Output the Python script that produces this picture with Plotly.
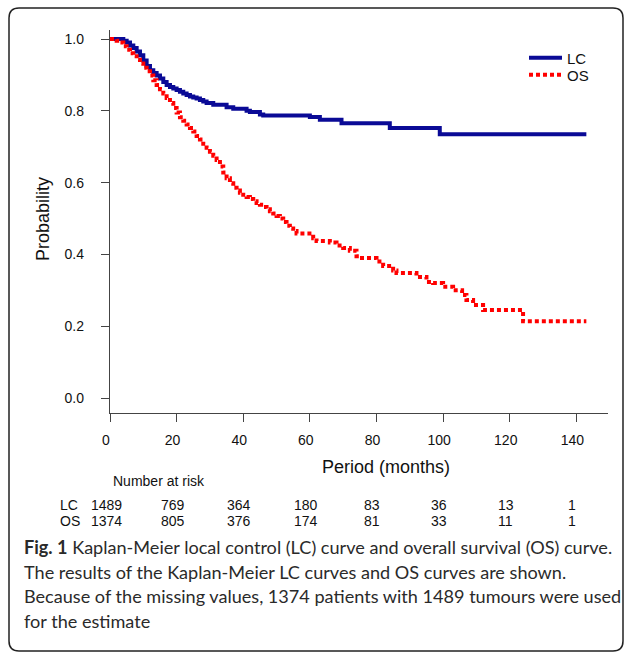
import plotly.graph_objects as go

# ---------------- data ----------------
lc_t = [0, 4, 5, 6, 7, 8, 9, 10, 11, 12, 13, 14, 15, 16, 17, 18, 19, 20, 21, 22, 23, 24, 25, 26, 27, 28, 29, 31,
        35, 37, 41, 42, 45, 46, 60, 63, 69.5, 84, 99, 143]
lc_s = [1.0, 0.995, 0.99, 0.982, 0.975, 0.965, 0.955, 0.94, 0.925, 0.913, 0.905, 0.898, 0.89, 0.88, 0.872, 0.866,
        0.862, 0.858, 0.853, 0.848, 0.844, 0.84, 0.837, 0.834, 0.83, 0.826, 0.822, 0.817,
        0.81, 0.806, 0.8, 0.797, 0.79, 0.787, 0.783, 0.775, 0.765, 0.752, 0.735, 0.735]

os_t = [0, 2, 3, 4, 5, 6, 7, 8, 9, 10, 11, 12, 13, 14, 15, 16, 17, 18, 19, 20, 21, 22, 23, 24, 25, 26, 27, 28, 29,
        30, 31, 32, 33, 34, 35, 36, 37, 38, 39, 40, 41, 42, 43, 44, 45, 46, 47, 48, 49, 50, 51, 52, 53, 54, 55, 56,
        61, 62, 66, 68, 70, 72, 74, 75, 80, 82, 85, 86, 92, 95, 97, 100, 103, 105.7, 107, 109, 112, 124, 143]
os_s = [1.0, 0.995, 0.99, 0.98, 0.97, 0.96, 0.952, 0.942, 0.932, 0.92, 0.91, 0.898, 0.885, 0.872, 0.86, 0.848,
        0.836, 0.822, 0.808, 0.795, 0.782, 0.772, 0.762, 0.752, 0.742, 0.73, 0.72, 0.708, 0.697,
        0.686, 0.675, 0.663, 0.645, 0.628, 0.612, 0.598, 0.586, 0.578, 0.572, 0.566, 0.56, 0.554, 0.548, 0.543,
        0.538, 0.532, 0.526, 0.52, 0.514, 0.507, 0.5, 0.49, 0.48, 0.472, 0.465, 0.458,
        0.445, 0.437, 0.433, 0.425, 0.418, 0.41, 0.395, 0.39, 0.38, 0.368, 0.355, 0.348, 0.337, 0.323, 0.32,
        0.31, 0.30, 0.287, 0.273, 0.259, 0.245, 0.214, 0.214]

risk_times = [0, 20, 40, 60, 80, 100, 120, 140]
risk_lc = [1489, 769, 364, 180, 83, 36, 13, 1]
risk_os = [1374, 805, 376, 174, 81, 33, 11, 1]

x_ticks = [0, 20, 40, 60, 80, 100, 120, 140]
y_ticks = [0.0, 0.2, 0.4, 0.6, 0.8, 1.0]
y_tick_labels = ["0.0", "0.2", "0.4", "0.6", "0.8", "1.0"]

caption_lines = [
    "<b>Fig. 1</b> Kaplan-Meier local control (LC) curve and overall survival (OS) curve.",
    "The results of the Kaplan-Meier LC curves and OS curves are shown.",
    "Because of the missing values, 1374 patients with 1489 tumours were used",
    "for the estimate",
]

# ---------------- layout geometry ----------------
W, H = 627, 653
L, R, T, B = 110, 608, 30, 413
PW, PH = R - L, B - T


def px(xp):
    return (xp - L) / PW


def py(yp):
    return (B - yp) / PH


AX_FONT = "Liberation Sans, Arial, sans-serif"
CAP_FONT = "Lato, Open Sans, sans-serif"
TXT = "#111"

fig = go.Figure()
fig.add_trace(go.Scatter(x=lc_t, y=lc_s, mode="lines", name="LC", line_shape="hv", legend="legend",
                         line=dict(color="#0a0a96", width=4)))
fig.add_trace(go.Scatter(x=os_t, y=os_s, mode="lines", name="OS", line_shape="hv", legend="legend2",
                         line=dict(color="#ff0000", width=4, dash="4px,3px")))


def note(text, x, y, size=14, xref="paper", xanchor="center", family=AX_FONT, color=TXT, **kw):
    return dict(text=text, xref=xref, yref="paper", x=x, y=y, xanchor=xanchor, yanchor="middle",
                showarrow=False, font=dict(family=family, size=size, color=color), **kw)


ann = []
ann.append(note("Probability", px(43), py(219), size=18, textangle=-90))
ann.append(note("Period (months)", px(386), py(467), size=18))
ann.append(note("Number at risk", px(111), py(481), xanchor="left"))
ann.append(note("LC", px(58), py(505), xanchor="left"))
ann.append(note("OS", px(58), py(521), xanchor="left"))
for t, a, b in zip(risk_times, risk_lc, risk_os):
    ann.append(note(str(a), t, py(505), xref="x", xshift=-4))
    ann.append(note(str(b), t, py(521), xref="x", xshift=-4))
for i, line in enumerate(caption_lines):
    ann.append(note(line, px(22), py(547 + i * 24.7), size=18.1, xanchor="left", family=CAP_FONT,
                    color="#2a2a2a"))

# rounded border
x0, y0, x1, y1, r = 9, 8, 623, 651, 10


def P(a, b):
    return f"{px(a):.5f},{py(b):.5f}"


path = (f"M{P(x0 + r, y0)} L{P(x1 - r, y0)} Q{P(x1, y0)} {P(x1, y0 + r)} L{P(x1, y1 - r)} "
        f"Q{P(x1, y1)} {P(x1 - r, y1)} L{P(x0 + r, y1)} Q{P(x0, y1)} {P(x0, y1 - r)} "
        f"L{P(x0, y0 + r)} Q{P(x0, y0)} {P(x0 + r, y0)} Z")

leg_common = dict(xanchor="left", yanchor="middle", bgcolor="rgba(0,0,0,0)", borderwidth=0,
                  font=dict(family=AX_FONT, size=15, color=TXT), itemwidth=33)

fig.update_layout(
    width=W, height=H,
    margin=dict(l=L, r=W - R, t=T, b=H - B),
    paper_bgcolor="white", plot_bgcolor="white",
    showlegend=True,
    legend=dict(x=px(524), y=py(58), **leg_common),
    legend2=dict(x=px(524), y=py(75), **leg_common),
    annotations=ann,
    shapes=[dict(type="path", path=path, xref="paper", yref="paper",
                 line=dict(color="#222", width=1.5), layer="above")],
    font=dict(family=AX_FONT, size=14, color=TXT),
)
fig.update_xaxes(range=[0, 149.5], tickvals=x_ticks, ticks="outside", ticklen=8, tickwidth=1.2,
                 tickcolor="#444", showline=True, linecolor="#444", linewidth=1.3, showgrid=False,
                 zeroline=False, tickfont=dict(family=AX_FONT, size=14, color=TXT),
                 ticklabelstandoff=6, ticklabelshift=-4, fixedrange=True)
fig.update_yaxes(range=[-15 / 359, 1 + 9 / 359], tickvals=y_ticks, ticktext=y_tick_labels, ticks="outside",
                 ticklen=8, tickwidth=1.2, tickcolor="#444", showline=True, linecolor="#444", linewidth=1.3,
                 showgrid=False, zeroline=False, tickfont=dict(family=AX_FONT, size=14, color=TXT),
                 ticklabelstandoff=14, fixedrange=True)

fig.write_html("out.html")
